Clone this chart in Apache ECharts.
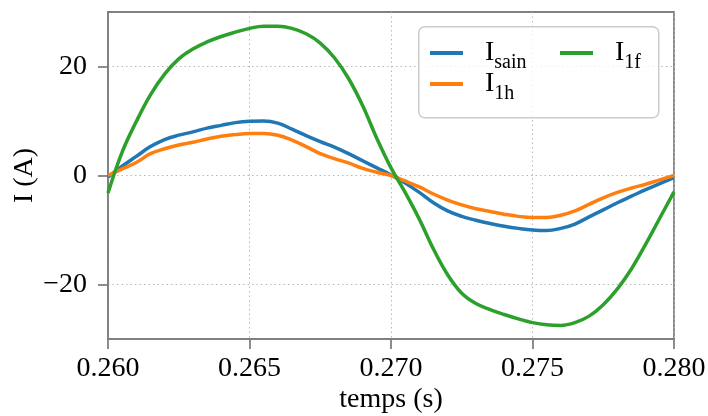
<!DOCTYPE html>
<html>
<head>
<meta charset="utf-8">
<script src="https://cdn.jsdelivr.net/npm/echarts@6/dist/echarts.min.js"></script>
<style>
html,body{margin:0;padding:0;background:#fff;}
#chart{width:708px;height:416px;}
</style>
</head>
<body>
<div id="chart"></div>
<script>
const time = [0.2600,0.2605,0.2610,0.2615,0.2620,0.2625,0.2630,0.2635,0.2640,0.2645,0.2650,0.2655,0.2660,0.2665,0.2670,0.2675,0.2680,0.2685,0.2690,0.2695,0.2700,0.2705,0.2710,0.2715,0.2720,0.2725,0.2730,0.2735,0.2740,0.2745,0.2750,0.2755,0.2760,0.2765,0.2770,0.2775,0.2780,0.2785,0.2790,0.2795,0.2800];
const iSain = [-0.3,1.7,3.5,5.3,6.6,7.4,8.0,8.7,9.2,9.7,9.95,10.0,9.6,8.5,7.3,6.2,5.2,4.0,2.7,1.4,0.1,-1.4,-3.1,-5,-6.5,-7.5,-8.2,-8.8,-9.3,-9.7,-10,-10.1,-9.7,-8.9,-7.6,-6.3,-5,-3.8,-2.6,-1.5,-0.4];
const i1h = [0,1.2,2.4,4.0,4.9,5.6,6.1,6.7,7.2,7.5,7.7,7.7,7.4,6.5,5.3,4.0,3.1,2.3,1.3,0.6,0,-1,-2.1,-3.4,-4.5,-5.4,-6.1,-6.6,-7.1,-7.5,-7.7,-7.7,-7.3,-6.5,-5.3,-4.1,-3.1,-2.3,-1.6,-0.8,0];
const i1f = [-3.2,4.3,9.9,14.8,18.6,21.4,23.2,24.5,25.5,26.3,27.0,27.4,27.4,27.0,26.0,24.3,21.6,17.8,12.8,6.8,1.4,-3.1,-8.0,-13.5,-18.2,-21.6,-23.5,-24.6,-25.5,-26.3,-27.0,-27.4,-27.5,-27.0,-25.8,-23.7,-20.8,-17.1,-12.6,-7.8,-3.0];
const yTicks = [-20, 0, 20];
const seriesSubs = {'I_sain': 'sain', 'I_1h': '1h', 'I_1f': '1f'};
const colors = ['#1f77b4', '#ff7f0e', '#2ca02c'];

const FONT = 'Liberation Serif';
const chart = echarts.init(document.getElementById('chart'), null, {renderer: 'canvas'});

function pair(arr) { return time.map((t, i) => [t, arr[i]]); }

const legendRich = {
  g: {width: 17},
  i: {fontFamily: FONT, fontSize: 28, color: '#000', lineHeight: 40, verticalAlign: 'middle'},
  s: {fontFamily: FONT, fontSize: 20, color: '#000', lineHeight: 40, verticalAlign: 'bottom'}
};
function mkLegend(name, left, top) {
  return {
    data: [name], left: left, top: top, padding: 0, orient: 'vertical',
    icon: 'rect', itemWidth: 33, itemHeight: 4, selectedMode: false, z: 6,
    formatter: n => '{g|}{i|I}{s|' + seriesSubs[n] + '}',
    textStyle: {rich: legendRich}
  };
}

const option = {
  animation: false,
  backgroundColor: '#fff',
  color: colors,
  grid: {left: 108, right: 34, top: 12, bottom: 77, show: true, borderColor: '#808080', borderWidth: 1.8,
    backgroundColor: 'transparent', outerBoundsMode: 'none', containLabel: false},
  xAxis: {
    type: 'value', min: 0.26, max: 0.28, interval: 0.005,
    name: 'temps (s)', nameLocation: 'middle', nameGap: 47, nameMoveOverlap: false,
    nameTextStyle: {fontFamily: FONT, fontSize: 28, color: '#000'},
    axisLine: {show: true, onZero: false, lineStyle: {color: '#808080', width: 1.8}},
    axisTick: {show: true, inside: false, length: 10, lineStyle: {color: '#808080', width: 1.8}},
    axisLabel: {fontFamily: FONT, fontSize: 28, color: '#000', margin: 16, formatter: v => v.toFixed(3)},
    splitLine: {show: true, lineStyle: {color: '#b8b8b8', width: 1, type: [1.5, 3]}}
  },
  yAxis: {
    type: 'value', min: -30, max: 30,
    name: 'I (A)', nameLocation: 'middle', nameGap: 69, nameRotate: 90, nameMoveOverlap: false,
    nameTextStyle: {fontFamily: FONT, fontSize: 28, color: '#000'},
    axisLine: {show: true, onZero: false, lineStyle: {color: '#808080', width: 1.8}},
    axisTick: {show: true, inside: false, length: 10, customValues: yTicks, lineStyle: {color: '#808080', width: 1.8}},
    axisLabel: {fontFamily: FONT, fontSize: 28, color: '#000', margin: 21, customValues: yTicks,
      formatter: v => (v < 0 ? '\u2212' + Math.abs(v) : String(v))},
    splitLine: {show: true, lineStyle: {color: '#b8b8b8', width: 1, type: [1.5, 3]}}
  },
  legend: [
    mkLegend('I_sain', 430, 39),
    mkLegend('I_1h', 430, 70),
    mkLegend('I_1f', 560, 39)
  ],
  graphic: [{
    type: 'rect', z: 5, left: 418, top: 26,
    shape: {width: 240, height: 91, r: 6},
    style: {fill: 'rgba(255,255,255,0.8)', stroke: '#cccccc', lineWidth: 1.5}
  }],
  series: [
    {name: 'I_sain', type: 'line', data: pair(iSain), showSymbol: false, smooth: 0.4, lineStyle: {width: 3.5, color: colors[0]}, z: 2},
    {name: 'I_1h', type: 'line', data: pair(i1h), showSymbol: false, smooth: 0.4, lineStyle: {width: 3.5, color: colors[1]}, z: 3},
    {name: 'I_1f', type: 'line', data: pair(i1f), showSymbol: false, smooth: 0.4, lineStyle: {width: 3.5, color: colors[2]}, z: 4}
  ]
};
chart.setOption(option);
</script>
</body>
</html>
